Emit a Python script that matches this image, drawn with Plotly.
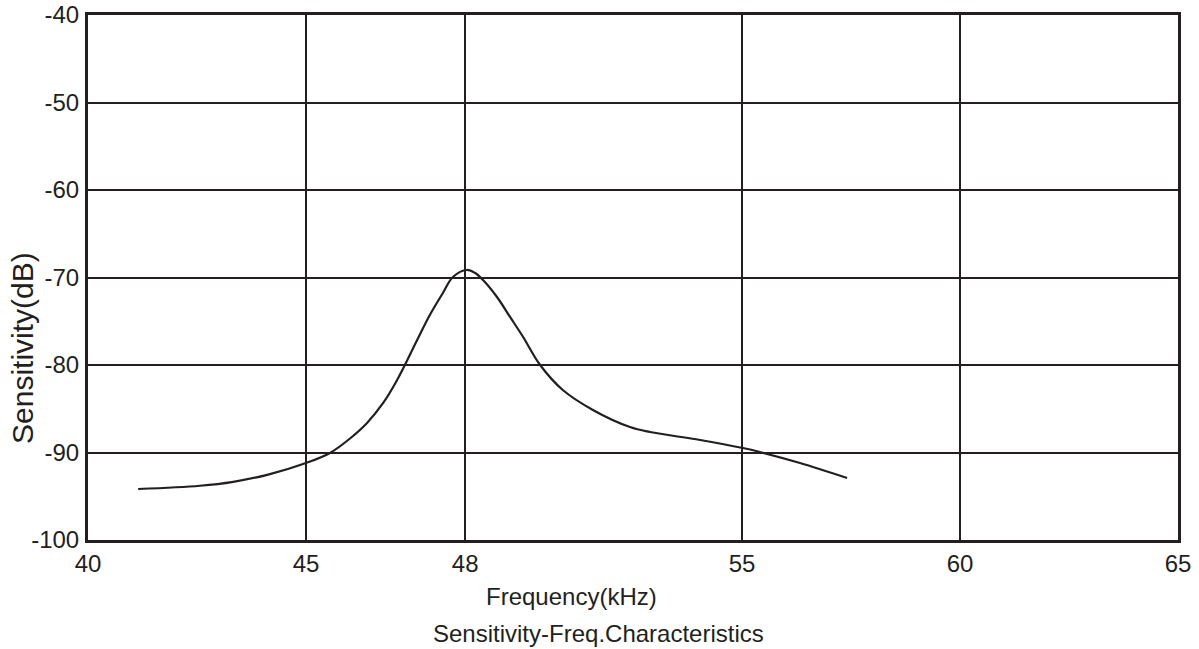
import plotly.graph_objects as go

# Axis position coordinates (the "48" gridline sits off the linear scale in the original)
freq_pos = [41.15, 42.57, 43.33, 44.11, 45.0, 45.55, 46.01, 46.40, 46.77, 47.09, 47.55, 47.84,
            48.14, 48.37, 48.69, 48.88, 49.06, 49.38, 49.68, 49.98, 50.37, 50.89, 51.58,
            52.43, 52.89, 54.04, 55.02, 55.41, 56.33, 57.41]
sensitivity_db = [-94.17, -93.8, -93.35, -92.55, -91.2, -90.05, -88.4, -86.63, -84.34, -81.71,
                  -77.14, -74.29, -71.77, -69.94, -69.14, -69.49, -70.29, -72.23, -74.51, -76.80,
                  -80.0, -82.86, -85.14, -87.09, -87.66, -88.57, -89.49, -89.94, -91.2, -92.91]

x_tick_vals = [40, 45, 48.65, 55, 60, 65]
x_tick_text = ["40", "45", "48", "55", "60", "65"]
y_tick_vals = [-40, -50, -60, -70, -80, -90, -100]
y_tick_text = ["-40", "-50", "-60", "-70", "-80", "-90", "-100"]

ink = "#231f20"
font_family = "Liberation Sans, Arial, sans-serif"

fig = go.Figure()
fig.add_trace(go.Scatter(x=freq_pos, y=sensitivity_db, mode="lines",
                         line=dict(color=ink, width=2.2, shape="spline", smoothing=1.0),
                         showlegend=False, hoverinfo="skip"))

fig.update_layout(
    width=1199, height=649,
    margin=dict(l=88, r=21, t=15, b=109),
    paper_bgcolor="white", plot_bgcolor="white",
    font=dict(family=font_family, color=ink, size=22),
    xaxis=dict(range=[40, 65], tickmode="array", tickvals=x_tick_vals, ticktext=x_tick_text,
               showgrid=True, gridcolor=ink, gridwidth=2, zeroline=False,
               showline=True, linecolor=ink, linewidth=3, mirror=True, automargin=False,
               ticks="", ticklabelstandoff=0, tickfont=dict(size=24, color=ink)),
    yaxis=dict(range=[-100, -40], tickmode="array", tickvals=y_tick_vals, ticktext=y_tick_text,
               showgrid=True, gridcolor=ink, gridwidth=2, zeroline=False,
               showline=True, linecolor=ink, linewidth=3, mirror=True, automargin=False,
               ticks="", ticklabelstandoff=1, tickfont=dict(size=24, color=ink)),
    annotations=[
        dict(text="Frequency(kHz)", xref="paper", yref="paper", x=0.444, y=-0.107,
             xanchor="center", yanchor="middle", showarrow=False,
             font=dict(size=24, color=ink, family=font_family)),
        dict(text="Sensitivity-Freq.Characteristics", xref="paper", yref="paper", x=0.468, y=-0.179,
             xanchor="center", yanchor="middle", showarrow=False,
             font=dict(size=24, color=ink, family=font_family)),
        dict(text="Sensitivity(dB)", xref="paper", yref="paper", x=-0.060, y=0.365,
             xanchor="center", yanchor="middle", showarrow=False, textangle=-90,
             font=dict(size=30, color=ink, family=font_family)),
    ],
)

fig.write_html("out.html", config={"displayModeBar": False},
               post_script="document.body.style.margin='0px';")
